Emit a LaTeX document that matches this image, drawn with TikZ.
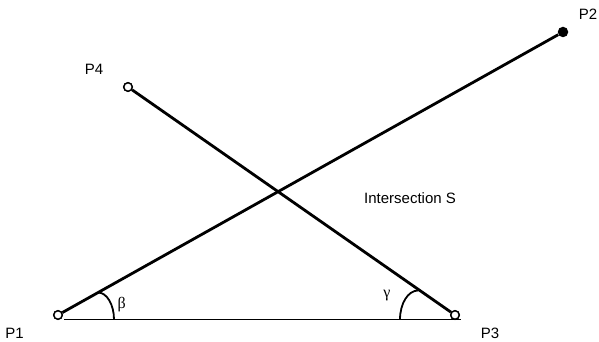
\documentclass[tikz,border=0pt]{standalone}
\usepackage{fontspec}
\setmainfont{Liberation Sans}
\newfontfamily\greekfont{Liberation Serif}
\begin{document}
\begin{tikzpicture}[x=1pt,y=1pt,
  opencirc/.style={circle,draw=black,fill=white,line width=1.4pt,inner sep=0pt,minimum size=8.5pt},
  filledcirc/.style={circle,fill=black,inner sep=0pt,minimum size=10.5pt},
  thickline/.style={line width=2.8pt},
  thinline/.style={line width=1.8pt},
  arcline/.style={line width=1.8pt},
  lbl/.style={inner sep=0pt,font=\fontsize{15}{18}\selectfont},
  glbl/.style={inner sep=0pt,font=\greekfont\fontsize{16}{18}\selectfont}]
\useasboundingbox (0,0) rectangle (599,342);
% points
\node[opencirc] (p1) at (58,27) {};
\node[filledcirc] (p2) at (563,310) {};
\node[opencirc] (p3) at (455,27) {};
\node[opencirc] (p4) at (128,255) {};
% base line ends
\coordinate (b1) at (64,22.5);
\coordinate (b3) at (461,22.5);
% connectors
\draw[thickline] (p1) -- (p2);
\draw[thickline] (p4) -- (p3);
\draw[thinline] (b1) -- (b3);
% redraw circles on top
\node[opencirc] at (p1) {};
\node[opencirc] at (p3) {};
\node[opencirc] at (p4) {};
% angle arcs
\draw[arcline] (98,49.5) arc[start angle=90,end angle=0,x radius=16,y radius=27];
\draw[arcline] (418,51.5) arc[start angle=90,end angle=180,x radius=18,y radius=29];
% labels
\node[lbl] (l1) at (14.5,8.5) {P1};
\node[lbl] (l2) at (588,327.5) {P2};
\node[lbl] (l3) at (490,8.5) {P3};
\node[lbl] (l4) at (94,272.5) {P4};
\node[lbl] (ls) at (410,144) {Intersection S};
\node[glbl] (lb) at (121.7,37) {β};
\node[glbl] (lg) at (387,46) {γ};
\end{tikzpicture}
\end{document}
